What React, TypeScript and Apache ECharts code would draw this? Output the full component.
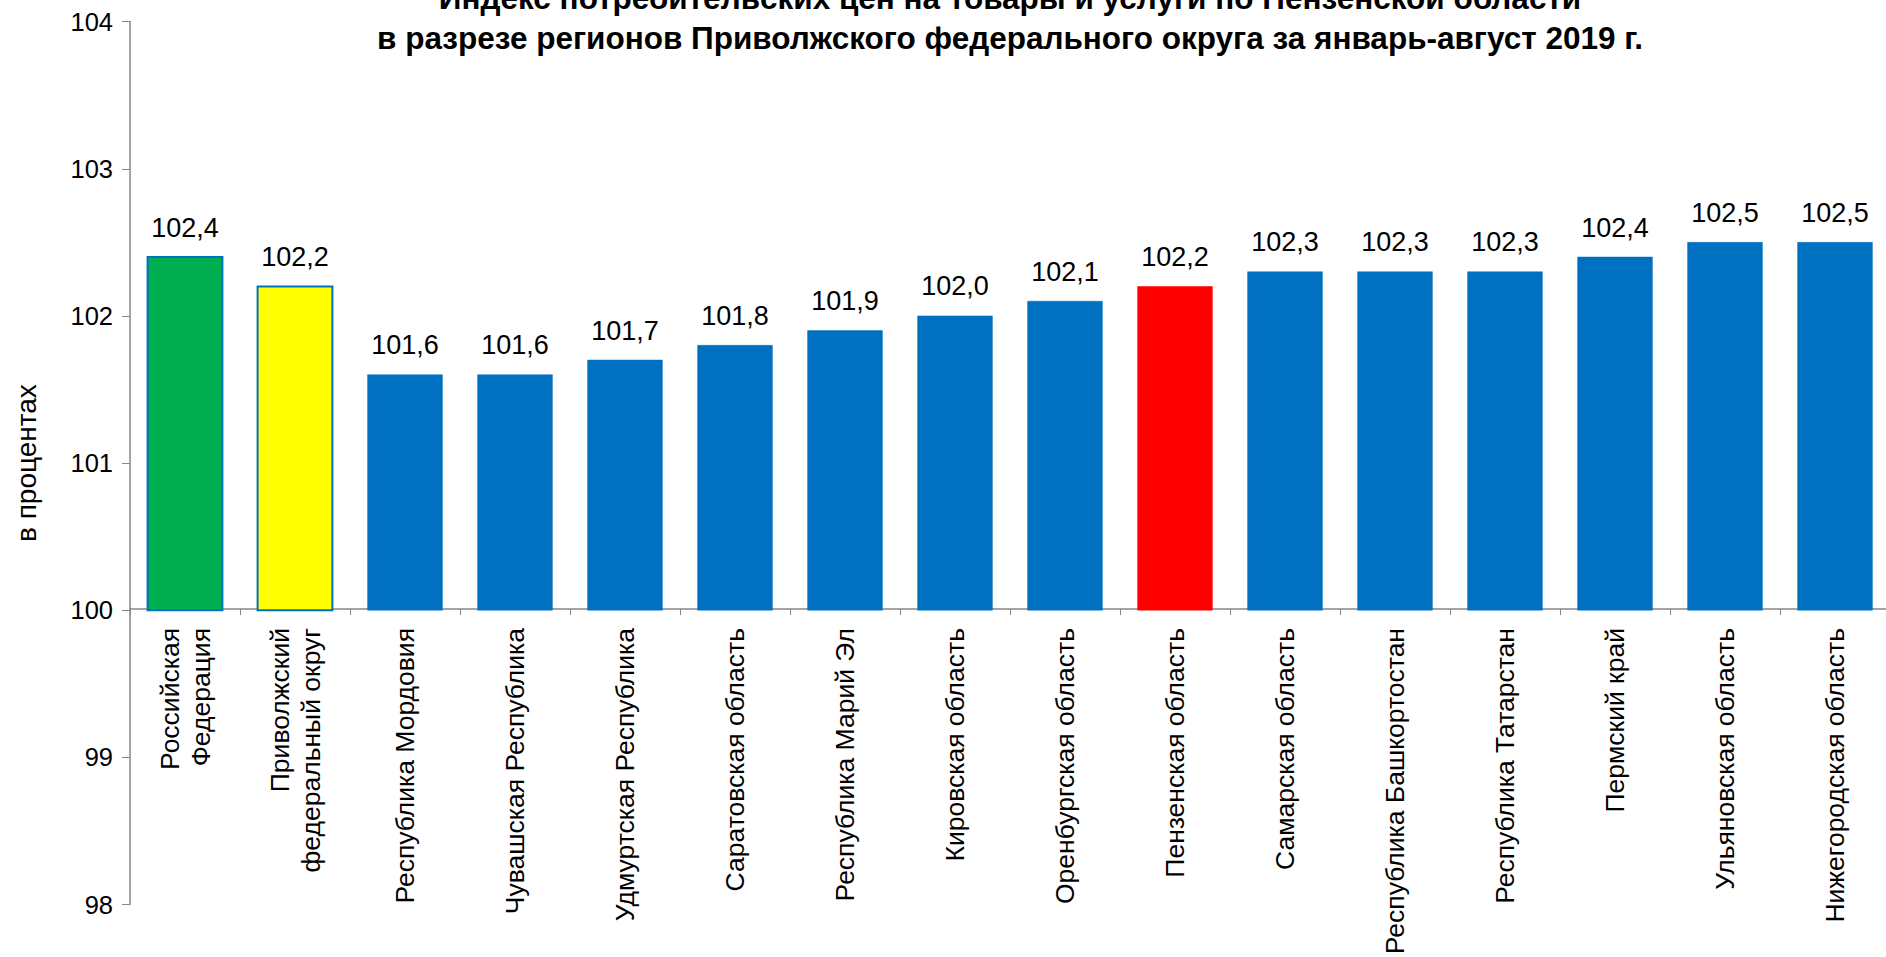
import React, { useEffect, useRef } from "react";
import * as echarts from "echarts";

const titleLines = [
  "Индекс потребительских цен на товары и услуги по Пензенской области",
  "в разрезе регионов Приволжского федерального округа за январь-август 2019 г.",
];

const categories = [
  "Российская\nФедерация",
  "Приволжский\nфедеральный округ",
  "Республика Мордовия",
  "Чувашская Республика",
  "Удмуртская Республика",
  "Саратовская область",
  "Республика Марий Эл",
  "Кировская область",
  "Оренбургская область",
  "Пензенская область",
  "Самарская область",
  "Республика Башкортостан",
  "Республика Татарстан",
  "Пермский край",
  "Ульяновская область",
  "Нижегородская область",
];

const values = [102.4, 102.2, 101.6, 101.6, 101.7, 101.8, 101.9, 102.0, 102.1, 102.2, 102.3, 102.3, 102.3, 102.4, 102.5, 102.5];

const barColors = [
  "#00B050", "#FFFF00", "#0070C0", "#0070C0", "#0070C0", "#0070C0", "#0070C0", "#0070C0",
  "#0070C0", "#FF0000", "#0070C0", "#0070C0", "#0070C0", "#0070C0", "#0070C0", "#0070C0",
];

const yTicks = { min: 98, max: 104, interval: 1 };
const baseValue = 100;
const yAxisName = "в процентах";

const FONT = "'Liberation Sans', Arial, sans-serif";

export default function App() {
  const ref = useRef<HTMLDivElement>(null);

  useEffect(() => {
    if (!ref.current) return;
    const chart = echarts.init(ref.current, null, { renderer: "svg" });
    const fmt = (v: number) => v.toFixed(1).replace(".", ",");

    const option: any = {
      animation: false,
      backgroundColor: "#ffffff",
      title: {
        text: titleLines.join("\n"),
        left: 1005,
        top: -27,
        textAlign: "center",
        textStyle: {
          fontFamily: FONT,
          fontSize: 31.5,
          fontWeight: "bold",
          color: "#000",
          lineHeight: 40,
        },
      },
      grid: { left: 130, right: -4, top: 21.6, bottom: 52.5, outerBoundsMode: "none", containLabel: false },
      xAxis: {
        type: "category",
        data: categories,
        offset: -295.5,
        axisLine: { show: true, lineStyle: { color: "#868686", width: 1.5 } },
        axisTick: { show: true, length: 6, interval: 0, lineStyle: { color: "#868686" } },
        axisLabel: {
          interval: 0,
          rotate: 90,
          margin: 19,
          fontFamily: FONT,
          fontSize: 26.5,
          lineHeight: 31,
          color: "#000",
        },
        splitLine: { show: false },
      },
      yAxis: {
        type: "value",
        min: yTicks.min,
        max: yTicks.max,
        interval: yTicks.interval,
        name: yAxisName,
        nameLocation: "middle",
        nameRotate: 90,
        nameGap: 90,
        nameTextStyle: { fontFamily: FONT, fontSize: 28, color: "#000" },
        axisLine: { show: true, lineStyle: { color: "#868686", width: 1.5 } },
        axisTick: { show: true, length: 8, lineStyle: { color: "#868686" } },
        axisLabel: { margin: 17, fontFamily: FONT, fontSize: 25.5, color: "#000" },
        splitLine: { show: false },
      },
      series: [
        {
          type: "custom",
          data: values.map((v, i) => [i, v]),
          encode: { x: 0, y: 1 },
          renderItem: (params: any, api: any) => {
            const idx = api.value(0);
            const v = api.value(1);
            const top = api.coord([idx, v]);
            const base = api.coord([idx, baseValue]);
            const w = api.size([1, 0])[0] * 0.68;
            const color = barColors[idx];
            const bordered = idx < 2;
            return {
              type: "group",
              children: [
                {
                  type: "rect",
                  shape: { x: top[0] - w / 2, y: top[1], width: w, height: base[1] - top[1] },
                  style: {
                    fill: color,
                    stroke: bordered ? "#0070C0" : color,
                    lineWidth: bordered ? 2 : 0.5,
                  },
                },
                {
                  type: "text",
                  x: top[0],
                  y: top[1] - 16,
                  style: {
                    text: fmt(v),
                    align: "center",
                    verticalAlign: "bottom",
                    fontFamily: FONT,
                    fontSize: 27,
                    fill: "#000",
                  },
                },
              ],
            };
          },
        },
      ],
    };

    chart.setOption(option);
    return () => chart.dispose();
  }, []);

  return (
    <div
      ref={ref}
      style={{ position: "absolute", left: 0, top: 0, width: 1886, height: 957 }}
    />
  );
}
